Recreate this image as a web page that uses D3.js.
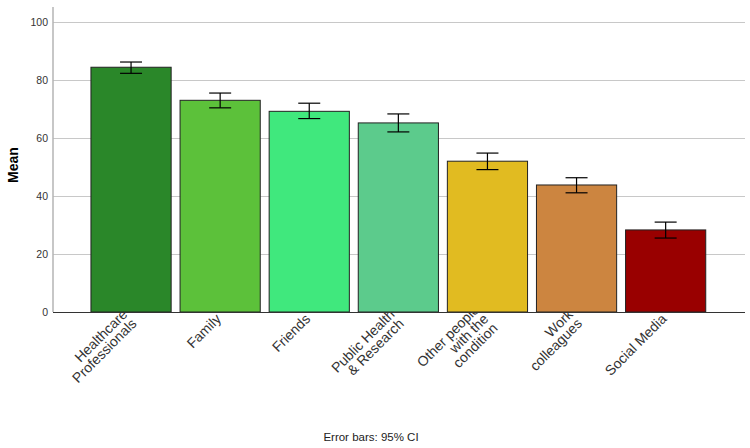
<!DOCTYPE html>
<html><head><meta charset="utf-8">
<script src="https://cdn.jsdelivr.net/npm/d3@7"></script>
<style>body{margin:0;background:#fff}svg{display:block}text{font-family:"Liberation Sans",Arial,sans-serif}</style>
</head><body><svg id="c" width="750" height="448"></svg>
<script>
const categories = ["Healthcare\nProfessionals","Family","Friends","Public Health\n& Research","Other people\nwith the\ncondition","Work\ncolleagues","Social Media"];
const means = [84.4, 73.0, 69.2, 65.2, 52.0, 43.8, 28.3];
const ciLow = [82.3, 70.4, 66.7, 62.1, 49.1, 41.1, 25.5];
const ciHigh = [86.2, 75.5, 72.0, 68.3, 54.8, 46.3, 31.0];
const colors = ["#2a8729","#5cc13a","#40e87d","#5ccb8c","#e1bb21","#cc8540","#990000"];
const yTicks = [0,20,40,60,80,100];

const svg = d3.select("#c");
const x0 = 53, x1 = 745, yTop = 7;
const x = d3.scaleBand().domain(d3.range(categories.length)).range([86.5,710.2]).paddingInner(0.1).paddingOuter(0.05);
const y = d3.scaleLinear().domain([0,100]).range([312,22]);

// gridlines
svg.append("g").selectAll("line").data(yTicks.filter(d=>d>0)).join("line")
  .attr("x1",x0).attr("x2",x1).attr("y1",d=>y(d)).attr("y2",d=>y(d))
  .attr("stroke","#c8c8c8").attr("stroke-width",1).attr("shape-rendering","crispEdges");

// y axis
const yAxis = d3.axisLeft(y).tickValues(yTicks).tickSize(0).tickPadding(5);
const ya = svg.append("g").attr("transform",`translate(${x0},0)`).call(yAxis);
ya.select(".domain").remove();
ya.selectAll("text").attr("font-size",10.5).attr("fill","#333").attr("font-family","Liberation Sans, Arial, sans-serif");
svg.append("line").attr("x1",x0).attr("x2",x0).attr("y1",yTop).attr("y2",312)
  .attr("stroke","#b4b4b4").attr("stroke-width",1.5);

// x labels (drawn beneath bars)
const lh = 13;
categories.forEach((c,i)=>{
  const lines = c.split("\n");
  const cx = x(i)+x.bandwidth()/2;
  const t = svg.append("text").attr("transform",`translate(${cx-1},${317}) rotate(-45)`)
    .attr("text-anchor","end").attr("font-size",14).attr("fill","#333");
  lines.forEach((l,j)=>{
    t.append("tspan").attr("x",0).attr("y",(j-(lines.length-1)/2)*lh + 4).text(l);
  });
});

// bars
svg.append("g").selectAll("rect").data(means).join("rect")
  .attr("x",(d,i)=>x(i)).attr("width",x.bandwidth())
  .attr("y",d=>y(d)).attr("height",d=>y(0)-y(d))
  .attr("fill",(d,i)=>colors[i]).attr("stroke","#222").attr("stroke-width",1);

// x axis line
svg.append("line").attr("x1",x0).attr("x2",x1).attr("y1",312.5).attr("y2",312.5)
  .attr("stroke","#333").attr("stroke-width",1);

// error bars
const eb = svg.append("g").attr("stroke","#000").attr("stroke-width",1.2);
means.forEach((m,i)=>{
  const cx = x(i)+x.bandwidth()/2, cap = 11;
  eb.append("line").attr("x1",cx).attr("x2",cx).attr("y1",y(ciHigh[i])).attr("y2",y(ciLow[i]));
  eb.append("line").attr("x1",cx-cap).attr("x2",cx+cap).attr("y1",y(ciHigh[i])).attr("y2",y(ciHigh[i]));
  eb.append("line").attr("x1",cx-cap).attr("x2",cx+cap).attr("y1",y(ciLow[i])).attr("y2",y(ciLow[i]));
});

// y title
svg.append("text").attr("transform","translate(18,165) rotate(-90)").attr("text-anchor","middle")
  .attr("font-size",14).attr("font-weight","bold").attr("fill","#000").text("Mean");

// footnote
svg.append("text").attr("x",371).attr("y",441).attr("text-anchor","middle")
  .attr("font-size",11.5).attr("fill","#222").text("Error bars: 95% CI");
</script></body></html>
